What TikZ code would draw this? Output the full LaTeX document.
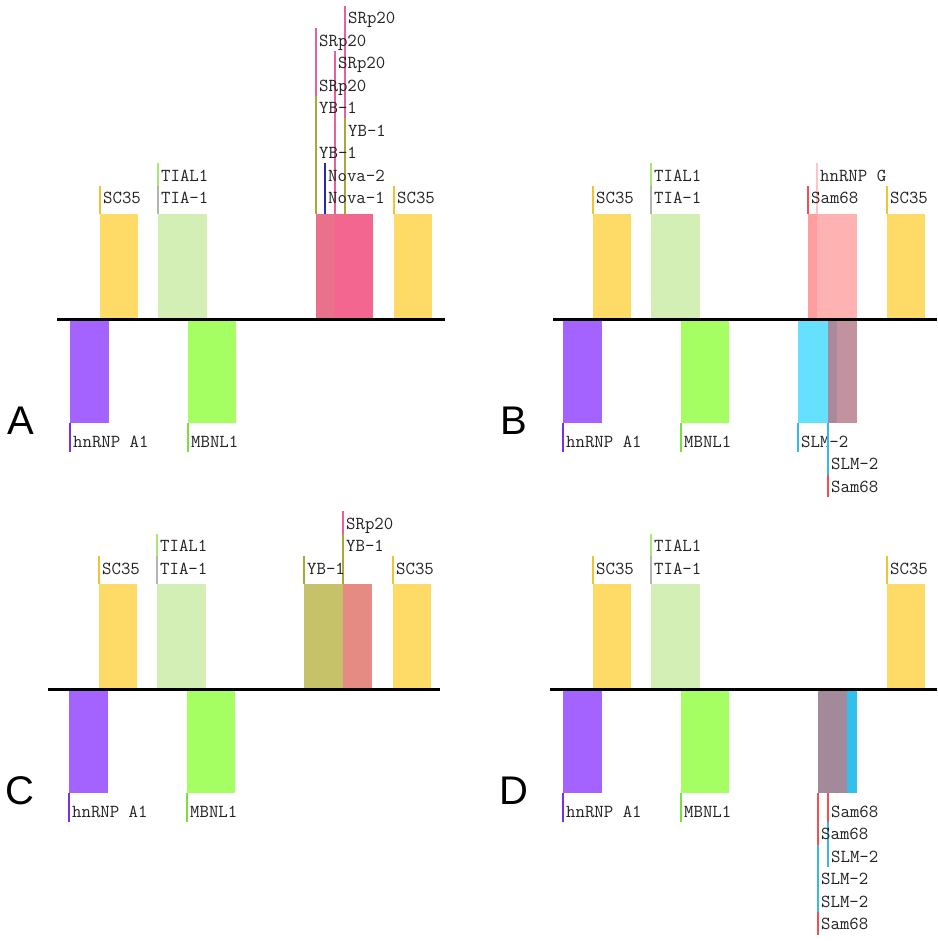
\documentclass[tikz,border=0pt]{standalone}
\usepackage{fontspec}
\setsansfont{Liberation Sans}
\usetikzlibrary{positioning}
\definecolor{labtext}{HTML}{222222}
\definecolor{scyel}{HTML}{FDDB66}
\definecolor{sctick}{HTML}{F2C230}
\definecolor{tiagrn}{HTML}{D3EFB5}
\definecolor{tialtick}{HTML}{A8E878}
\definecolor{tiatick}{HTML}{B4B4B4}
\definecolor{hnbox}{HTML}{A463FF}
\definecolor{hntick}{HTML}{7A2EE8}
\definecolor{mbbox}{HTML}{A6FF62}
\definecolor{mbtick}{HTML}{78E040}
\definecolor{pinkA1}{HTML}{E9718B}
\definecolor{pinkA2}{HTML}{F2668F}
\definecolor{srtick}{HTML}{E8609A}
\definecolor{ybtick}{HTML}{A8A838}
\definecolor{novatick}{HTML}{2828B8}
\definecolor{pinkB1}{HTML}{FF9E9E}
\definecolor{pinkB2}{HTML}{FFB2B2}
\definecolor{samtick}{HTML}{F05050}
\definecolor{hngtick}{HTML}{FFC4C4}
\definecolor{slmbox}{HTML}{66E0FF}
\definecolor{slmtick}{HTML}{38B8E8}
\definecolor{mauveB1}{HTML}{A88A9C}
\definecolor{mauveB2}{HTML}{C2929E}
\definecolor{oliveC}{HTML}{C6C26A}
\definecolor{redC}{HTML}{E68A84}
\definecolor{mauveD}{HTML}{A28A9A}
\definecolor{cyanD}{HTML}{32C0EA}
% label above the boxes: name, x, level, colour, text
\newcommand{\uptick}[5]{%
  \draw[tick,#4] (#2,-105) -- ({#2},{-133-22.5*#3});
  \node[lab] (#1) at ({#2+3},{-115-22.5*#3}) {#5};}
% label below the boxes
\newcommand{\dntick}[5]{%
  \draw[tick,#4] (#2,104) -- ({#2},{133+22.5*#3});
  \node[lab] (#1) at ({#2+3},{128+22.5*#3}) {#5};}

\begin{document}
\begin{tikzpicture}[x=1pt,y=-1pt,
    tick/.style={line width=1.5pt},
    lab/.style={anchor=base west,inner sep=0pt,text=labtext,font=\ttfamily\fontsize{18.3}{18}\selectfont},
    panel/.style={anchor=base,inner sep=0pt,font=\sffamily\fontsize{40}{40}\selectfont},
    axis/.style={line width=3pt}]
  \useasboundingbox (0,0) rectangle (937,941);

  % boxes every panel has
  \foreach \p/\dx/\dy/\xa/\xb in {A/0/319/57/445, B/493/319/60/444, C/-1/689/49/441, D/493/689/57/444} {
    \begin{scope}[shift={(\dx,\dy)}]
      \fill[scyel] (100,-105) rectangle (138,0);
      \fill[tiagrn] (158,-105) rectangle (207,0);
      \fill[scyel] (394,-105) rectangle (432,0);
      \fill[hnbox] (70,0) rectangle (109,104);
      \fill[mbbox] (188,0) rectangle (236,104);
      \uptick{sc-\p}{100}{0}{sctick}{SC35}
      \uptick{tial-\p}{158}{1}{tialtick}{TIAL1}
      \uptick{tia-\p}{158}{0}{tiatick}{TIA-1}
      \uptick{scr-\p}{394}{0}{sctick}{SC35}
      \dntick{hn-\p}{70}{0}{hntick}{hnRNP A1}
      \dntick{mb-\p}{188}{0}{mbtick}{MBNL1}
      \node[panel] (let-\p) at (21,115) {\p};
    \end{scope}
  }

  % A
  \begin{scope}[shift={(0,319)}]
    \fill[pinkA1] (316,-105) rectangle (335,0);
    \fill[pinkA2] (335,-105) rectangle (373,0);
    \uptick{a8}{345}{8}{srtick}{SRp20}
    \uptick{a7}{316}{7}{srtick}{SRp20}
    \uptick{a6}{335}{6}{srtick}{SRp20}
    \uptick{a5}{316}{5}{srtick}{SRp20}
    \uptick{a4}{316}{4}{ybtick}{YB-1}
    \uptick{a3}{345}{3}{ybtick}{YB-1}
    \uptick{a2}{316}{2}{ybtick}{YB-1}
    \uptick{a1}{325}{1}{novatick}{Nova-2}
    \uptick{a0}{325}{0}{novatick}{Nova-1}
    \draw[axis] (57,0) -- (445,0);
  \end{scope}

  % B
  \begin{scope}[shift={(493,319)}]
    \fill[pinkB1] (315,-105) rectangle (324,0);
    \fill[pinkB2] (324,-105) rectangle (364,0);
    \fill[slmbox] (305,0) rectangle (335,104);
    \fill[mauveB1] (335,0) rectangle (344,104);
    \fill[mauveB2] (344,0) rectangle (364,104);
    \uptick{b1}{324}{1}{hngtick}{hnRNP G}
    \uptick{b0}{315}{0}{samtick}{Sam68}
    \dntick{bd0}{305}{0}{slmtick}{SLM-2}
    \dntick{bd2}{335}{2}{samtick}{Sam68}
    \dntick{bd1}{335}{1}{slmtick}{SLM-2}
    \draw[axis] (60,0) -- (444,0);
  \end{scope}

  % C
  \begin{scope}[shift={(-1,689)}]
    \fill[oliveC] (305,-105) rectangle (344,0);
    \fill[redC] (344,-105) rectangle (373,0);
    \uptick{c2}{344}{2}{srtick}{SRp20}
    \uptick{c1}{344}{1}{ybtick}{YB-1}
    \uptick{c0}{305}{0}{ybtick}{YB-1}
    \draw[axis] (49,0) -- (441,0);
  \end{scope}

  % D
  \begin{scope}[shift={(493,689)}]
    \fill[mauveD] (325,0) rectangle (354,104);
    \fill[cyanD] (354,0) rectangle (364,104);
    \dntick{d5}{325}{5}{samtick}{Sam68}
    \dntick{d4}{325}{4}{slmtick}{SLM-2}
    \dntick{d3}{325}{3}{slmtick}{SLM-2}
    \dntick{d2}{335}{2}{slmtick}{SLM-2}
    \dntick{d1}{325}{1}{samtick}{Sam68}
    \dntick{d0}{335}{0}{samtick}{Sam68}
    \draw[axis] (57,0) -- (444,0);
  \end{scope}
\end{tikzpicture}
\end{document}
